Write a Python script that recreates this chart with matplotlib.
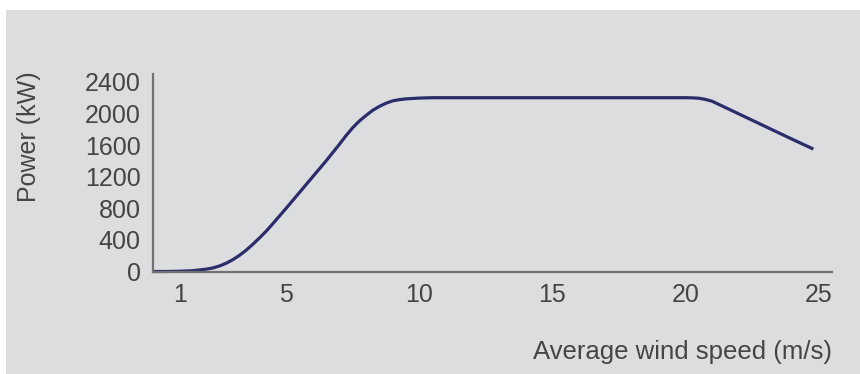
import numpy as np
import matplotlib.pyplot as plt
from matplotlib.patches import Rectangle

# power curve (denser where the curve bends)
wind_speed = [0, 0.5, 1, 1.5, 2, 2.25, 2.5, 2.75, 3, 3.25, 3.5, 3.75, 4, 4.25,
              4.5, 5, 5.5, 6, 6.5, 7, 7.25, 7.5, 7.75, 8, 8.25, 8.5, 8.75, 9,
              9.25, 9.5, 10, 10.5, 12, 14, 16, 18, 20, 20.25, 20.5, 20.75, 21,
              22, 23, 24, 24.8]
power_kw = [0, 0, 3, 10, 30, 45, 70, 105, 150, 205, 270, 345, 425, 510,
            605, 800, 1000, 1200, 1400, 1610, 1720, 1820, 1905, 1975, 2040,
            2090, 2130, 2160, 2175, 2185, 2195, 2200, 2200, 2200, 2200, 2200,
            2200, 2198, 2193, 2178, 2155, 1995, 1835, 1675, 1550]

x_ticks = [1, 5, 10, 15, 20, 25]
y_ticks = [0, 400, 800, 1200, 1600, 2000, 2400]

bg = "#dcdddf"
txt = "#454545"
line_col = "#2b2d6b"

plt.rcParams['font.family'] = ['Liberation Sans', 'DejaVu Sans']

fig = plt.figure(figsize=(8.6, 3.74), dpi=100, facecolor="white")
fig.patches.append(Rectangle((6 / 860, 0), 1, 1 - 10 / 374, transform=fig.transFigure,
                             facecolor=bg, edgecolor="none", zorder=-1))

ax = fig.add_axes([153 / 860, 1 - 271.5 / 374, (832 - 153) / 860, (271.5 - 74) / 374])
ax.set_facecolor("none")
ax.plot(wind_speed, power_kw, color=line_col, lw=2.3, solid_capstyle="butt",
        solid_joinstyle="round", clip_on=False)

ax.set_xlim(0, 25.5)
ax.set_ylim(0, 2500)
ax.set_xticks(x_ticks)
ax.set_yticks(y_ticks)
ax.tick_params(length=0, labelsize=18, labelcolor=txt)
ax.tick_params(axis="x", pad=8.5)
ax.tick_params(axis="y", pad=9)

for s in ["top", "right"]:
    ax.spines[s].set_visible(False)
for s in ["left", "bottom"]:
    ax.spines[s].set_color("#707172")
    ax.spines[s].set_linewidth(1.6)

fig.text(832 / 860, 1 - 352 / 374, "Average wind speed (m/s)", ha="right", va="center",
         fontsize=18.5, color=txt)
fig.text(29 / 860, 1 - 137 / 374, "Power (kW)", ha="center", va="center", rotation=90,
         fontsize=18, color=txt)

fig.savefig("out.png", dpi=100, facecolor="white")
